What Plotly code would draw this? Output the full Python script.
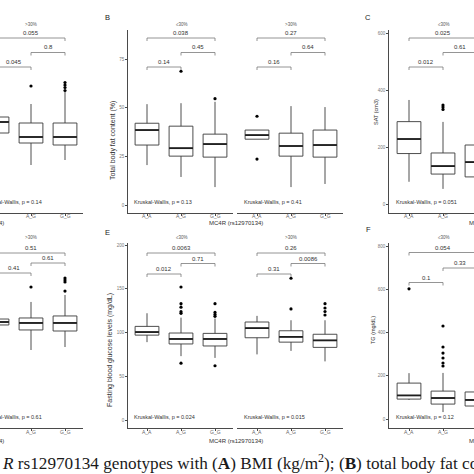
import plotly.graph_objects as go

W = H = 474
genotypes = ["A_A", "A_G", "G_G"]
pairs = [(0, 1), (1, 2), (0, 2)]  # order of the p-value lists below

# ---- A: BMI (kg/m2), ">30%" facet (only partly in view)
bmi_hi_lower = [26.5, 23.0, 24.0]
bmi_hi_q1 = [29.4, 27.4, 27.0]
bmi_hi_median = [31.6, 28.6, 28.6]
bmi_hi_q3 = [32.6, 31.4, 31.4]
bmi_hi_upper = [35.5, 35.2, 37.6]
bmi_hi_out_g = ["A_G", "G_G", "G_G", "G_G", "G_G"]
bmi_hi_out_v = [38.8, 39.5, 39.0, 38.5, 37.9]
bmi_hi_p = ["0.045", "0.8", "0.055"]
bmi_hi_kw = "0.14"

# ---- B: total body fat content (%), "<=30%"
fat_lo_lower = [20.5, 14.4, 9.2]
fat_lo_q1 = [30.8, 25.1, 24.6]
fat_lo_median = [38.5, 29.2, 31.3]
fat_lo_q3 = [42.0, 40.5, 36.4]
fat_lo_upper = [51.8, 52.3, 53.0]
fat_lo_out_g = ["A_G", "G_G"]
fat_lo_out_v = [68.7, 54.6]
fat_lo_p = ["0.14", "0.45", "0.038"]
fat_lo_kw = "0.13"

# ---- B: ">30%"
fat_hi_lower = [33.8, 9.2, 10.8]
fat_hi_q1 = [33.8, 25.1, 24.6]
fat_hi_median = [35.9, 30.3, 30.8]
fat_hi_q3 = [38.5, 36.9, 38.5]
fat_hi_upper = [38.5, 50.8, 50.3]
fat_hi_out_g = ["A_A", "A_A"]
fat_hi_out_v = [45.6, 23.6]
fat_hi_p = ["0.16", "0.64", "0.27"]
fat_hi_kw = "0.41"

# ---- C: SAT (cm3), "<=30%"
sat_lo_lower = [78, 53, 40]
sat_lo_q1 = [177, 105, 95]
sat_lo_median = [228, 133, 147]
sat_lo_q3 = [289, 179, 207]
sat_lo_upper = [365, 288, 300]
sat_lo_out_g = ["A_G", "A_G", "A_G"]
sat_lo_out_v = [347, 340, 332]
sat_lo_p = ["0.012", "0.61", "0.025"]
sat_lo_kw = "0.051"

# ---- D: ">30%" facet (only partly in view)
d_hi_lower = [95, 80, 83.4]
d_hi_q1 = [108.6, 102.9, 101.7]
d_hi_median = [112, 110.9, 110.9]
d_hi_q3 = [115.4, 116.6, 118.9]
d_hi_upper = [125, 134.9, 142.9]
d_hi_out_g = ["A_G", "G_G", "G_G", "G_G", "G_G"]
d_hi_out_v = [152, 162.3, 160, 157.7, 147.4]
d_hi_p = ["0.41", "0.61", "0.51"]
d_hi_kw = "0.61"

# ---- E: fasting blood glucose (mg/dL), "<=30%"
glu_lo_lower = [89, 73, 71]
glu_lo_q1 = [97, 86.9, 84.6]
glu_lo_median = [100.5, 92.6, 92.6]
glu_lo_q3 = [107, 99.4, 99]
glu_lo_upper = [122, 117, 116]
glu_lo_out_g = ["A_G"] * 6 + ["G_G"] * 5
glu_lo_out_v = [152, 133, 129, 123.8, 121.9, 65, 133, 123, 120.5, 118.5, 62]
glu_lo_p = ["0.012", "0.71", "0.0063"]
glu_lo_kw = "0.024"

# ---- E: ">30%"
glu_hi_lower = [75, 79, 67]
glu_hi_q1 = [94, 89, 83]
glu_hi_median = [105, 95, 91]
glu_hi_q3 = [112, 102, 98]
glu_hi_upper = [119, 114, 114]
glu_hi_out_g = ["A_G", "A_G", "G_G", "G_G", "G_G", "G_G"]
glu_hi_out_v = [162, 127, 133, 128, 124, 120]
glu_hi_p = ["0.31", "0.0086", "0.26"]
glu_hi_kw = "0.015"

# ---- F: TG (mg/dL), "<=30%"
tg_lo_lower = [88, 32, 20]
tg_lo_q1 = [92, 69, 60]
tg_lo_median = [109, 97, 88]
tg_lo_q3 = [166, 129, 125]
tg_lo_upper = [212, 213, 220]
tg_lo_out_g = ["A_A"] + ["A_G"] * 6
tg_lo_out_v = [602, 430, 333, 305, 282, 259, 245]
tg_lo_p = ["0.1", "0.33", "0.054"]
tg_lo_kw = "0.12"


def stats(lo, q1, md, q3, hi, og, ov, p, kw):
    return dict(lower=lo, q1=q1, median=md, q3=q3, upper=hi, out_g=og, out_v=ov, p=p, kw=kw)


# ---------------- layout (pixel geometry of the page) ----------------
STEP = 34           # px between genotype categories
ROW = {"top": (30, 213), "bottom": (243, 428)}
FONT = "Liberation Sans, Arial, sans-serif"
AX = "#4a4a4a"
TXT = "#333333"

panels = [
    dict(d=stats(bmi_hi_lower, bmi_hi_q1, bmi_hi_median, bmi_hi_q3, bmi_hi_upper, bmi_hi_out_g, bmi_hi_out_v, bmi_hi_p, bmi_hi_kw),
         x0=0, x1=83, c0=-3, row="top", p0=280, k=5.0, yaxis=False, ticks=None, strip=">30%",
         brk=[67, 52.5, 38]),
    dict(d=stats(fat_lo_lower, fat_lo_q1, fat_lo_median, fat_lo_q3, fat_lo_upper, fat_lo_out_g, fat_lo_out_v, fat_lo_p, fat_lo_kw),
         x0=128, x1=233, c0=147, row="top", p0=205, k=1.9467, yaxis=True, ticks=[0, 25, 50, 75], strip="≤30%",
         brk=[67, 52.5, 38]),
    dict(d=stats(fat_hi_lower, fat_hi_q1, fat_hi_median, fat_hi_q3, fat_hi_upper, fat_hi_out_g, fat_hi_out_v, fat_hi_p, fat_hi_kw),
         x0=237, x1=343, c0=257, row="top", p0=205, k=1.9467, yaxis=False, ticks=None, strip=">30%",
         brk=[67, 52.5, 38]),
    dict(d=stats(sat_lo_lower, sat_lo_q1, sat_lo_median, sat_lo_q3, sat_lo_upper, sat_lo_out_g, sat_lo_out_v, sat_lo_p, sat_lo_kw),
         x0=389, x1=474, c0=409, row="top", p0=204, k=0.285, yaxis=True, ticks=[0, 200, 400, 600], strip="≤30%",
         brk=[67, 52.5, 38]),
    dict(d=stats(d_hi_lower, d_hi_q1, d_hi_median, d_hi_q3, d_hi_upper, d_hi_out_g, d_hi_out_v, d_hi_p, d_hi_kw),
         x0=0, x1=83, c0=-3, row="bottom", p0=420, k=0.875, yaxis=False, ticks=None, strip=">30%",
         brk=[273, 263, 253]),
    dict(d=stats(glu_lo_lower, glu_lo_q1, glu_lo_median, glu_lo_q3, glu_lo_upper, glu_lo_out_g, glu_lo_out_v, glu_lo_p, glu_lo_kw),
         x0=128, x1=233, c0=147, row="bottom", p0=420, k=0.875, yaxis=True, ticks=[0, 50, 100, 150, 200], strip="≤30%",
         brk=[274, 263.5, 253]),
    dict(d=stats(glu_hi_lower, glu_hi_q1, glu_hi_median, glu_hi_q3, glu_hi_upper, glu_hi_out_g, glu_hi_out_v, glu_hi_p, glu_hi_kw),
         x0=237, x1=343, c0=257, row="bottom", p0=420, k=0.875, yaxis=False, ticks=None, strip=">30%",
         brk=[274, 263.5, 253]),
    dict(d=stats(tg_lo_lower, tg_lo_q1, tg_lo_median, tg_lo_q3, tg_lo_upper, tg_lo_out_g, tg_lo_out_v, tg_lo_p, tg_lo_kw),
         x0=389, x1=474, c0=409, row="bottom", p0=419, k=0.21625, yaxis=True, ticks=[0, 200, 400, 600, 800], strip="≤30%",
         brk=[282.5, 268, 252.5]),
]


def px(x):
    return x / W


def py(y):
    return 1 - y / H


def label(x, y, text, size, color=TXT, **kw):
    d = dict(x=px(x), y=py(y), xref="paper", yref="paper", text=text, showarrow=False,
             xanchor="center", yanchor="middle", borderpad=0,
             font=dict(family=FONT, size=size, color=color))
    d.update(kw)
    return d


gidx = {g: i for i, g in enumerate(genotypes)}
fig = go.Figure()
lay = {}
ann = []

for n, P in enumerate(panels, start=1):
    xa = "x" if n == 1 else f"x{n}"
    ya = "y" if n == 1 else f"y{n}"
    xk = "xaxis" if n == 1 else f"xaxis{n}"
    yk = "yaxis" if n == 1 else f"yaxis{n}"
    ytop, ybot = ROW[P["row"]]
    xr = [(P["x0"] - P["c0"]) / STEP, (P["x1"] - P["c0"]) / STEP]
    yr = [(P["p0"] - ybot) / P["k"], (P["p0"] - ytop) / P["k"]]
    lay[xk] = dict(domain=[px(P["x0"]), px(P["x1"])], range=xr, anchor=ya,
                   showline=True, linecolor=AX, linewidth=0.8, ticks="outside", ticklen=2,
                   tickcolor=AX, tickwidth=0.6, tickvals=[0, 1, 2], showticklabels=False,
                   showgrid=False, zeroline=False)
    yd = dict(domain=[py(ybot), py(ytop)], range=yr, anchor=xa, showgrid=False, zeroline=False)
    if P["yaxis"]:
        yd.update(showline=True, linecolor=AX, linewidth=0.8, ticks="outside", ticklen=2,
                  tickcolor=AX, tickwidth=0.6, tickvals=P["ticks"],
                  tickfont=dict(family=FONT, size=4.5, color="#777"))
    else:
        yd.update(visible=False)
    lay[yk] = yd

    # genotype tick labels (placed close to the axis line, like ggplot)
    tly = ybot + 3.5
    for i, g in enumerate(genotypes):
        gx = P["c0"] + STEP * i
        if 0 <= gx <= W:
            ann.append(label(gx, tly, g, 5, "#666"))

    D = P["d"]
    fig.add_trace(go.Box(x=[0, 1, 2], q1=D["q1"], median=D["median"], q3=D["q3"],
                         lowerfence=D["lower"], upperfence=D["upper"], width=0.7,
                         whiskerwidth=0, boxpoints=False, fillcolor="white",
                         line=dict(color="#3a3a3a", width=0.9), xaxis=xa, yaxis=ya,
                         showlegend=False, hoverinfo="skip"))
    # thicker median line (ggplot style)
    mx, my = [], []
    for i, m in enumerate(D["median"]):
        mx += [i - 0.35, i + 0.35, None]
        my += [m, m, None]
    fig.add_trace(go.Scatter(x=mx, y=my, mode="lines", line=dict(color="#1e1e1e", width=1.8),
                             xaxis=xa, yaxis=ya, showlegend=False, hoverinfo="skip"))
    # outliers
    fig.add_trace(go.Scatter(x=[gidx[g] for g in D["out_g"]], y=D["out_v"], mode="markers",
                             marker=dict(color="black", size=3.2), xaxis=xa, yaxis=ya,
                             showlegend=False, hoverinfo="skip"))
    # brackets + p-values
    bx, by = [], []
    tip = 3 / P["k"]
    for (a, b), lev, lab in zip(pairs, P["brk"], D["p"]):
        v = (P["p0"] - lev) / P["k"]
        bx += [a, a, b, b, None]
        by += [v - tip, v, v, v - tip, None]
        ann.append(label(P["c0"] + STEP * (a + b) / 2, lev - 5, lab, 6))
    fig.add_trace(go.Scatter(x=bx, y=by, mode="lines", line=dict(color="#7a7a7a", width=0.8),
                             xaxis=xa, yaxis=ya, showlegend=False, hoverinfo="skip"))
    # Kruskal-Wallis label
    kwy = 202 if P["row"] == "top" else 417
    ann.append(label(P["c0"] - 14, kwy, f"Kruskal-Wallis, p = {D['kw']}", 5.5, xanchor="left"))
    # facet strip label
    sy = 24.5 if P["row"] == "top" else 237.5
    ann.append(label(P["c0"] + STEP, sy, P["strip"], 4.5, "#555"))

# x-axis titles (one per two-facet plot); outer ones are cut by the page edge
for ty in (223, 441):
    ann.append(label(4.5, ty, "MC4R (rs12970134)", 6, xanchor="right"))
    ann.append(label(235.5, ty, "MC4R (rs12970134)", 6))
    ann.append(label(467.5, ty, "MC4R (rs12970134)", 6, xanchor="left"))

# y-axis titles
for txt, x, y, s in [("Total body fat content (%)", 113, 141, 7),
                     ("SAT (cm3)", 376, 112, 5.5),
                     ("Fasting blood glucose levels (mg/dL)", 110, 350, 7),
                     ("TG (mg/dL)", 373, 330, 5.5)]:
    ann.append(label(x, y, txt, s, textangle=-90))

# panel letters
for txt, x, y in [("B", 107, 17), ("C", 368, 17), ("E", 107, 232), ("F", 368, 229)]:
    ann.append(label(x, y, txt, 7.5, "#222"))

# figure caption (partly cut off, as in the source)
ann.append(dict(x=px(0), y=py(462), xref="paper", yref="paper", xanchor="left", yanchor="middle",
                text="<i>R</i> rs12970134 genotypes with (<b>A</b>) BMI (kg/m<sup>2</sup>); "
                     "(<b>B</b>) total body fat content (%);",
                showarrow=False, font=dict(family="Liberation Serif, serif", size=17.2, color="#1a1a1a")))

fig.update_layout(width=W, height=H, margin=dict(l=0, r=0, t=0, b=0), plot_bgcolor="white",
                  paper_bgcolor="white", annotations=ann, showlegend=False, **lay)

fig.write_html("out.html", config={"displayModeBar": False},
               post_script="document.body.style.margin='0px';")
